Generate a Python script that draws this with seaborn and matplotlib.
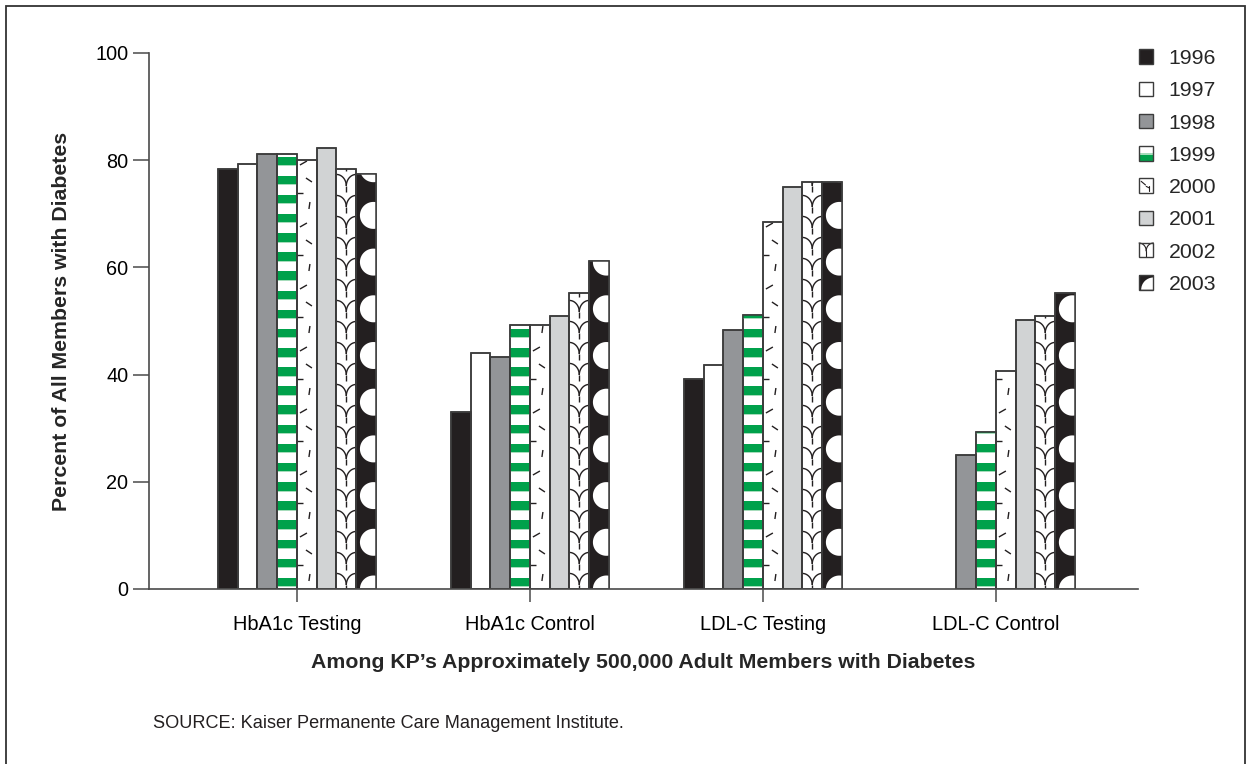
import numpy as np
import pandas as pd
import matplotlib
matplotlib.use("Agg")
import matplotlib.pyplot as plt
import seaborn as sns
from matplotlib.patches import Rectangle, Polygon, Wedge, Patch
from matplotlib.lines import Line2D
from matplotlib.collections import LineCollection
from matplotlib.legend_handler import HandlerBase

# ---- data -------------------------------------------------------------
measures = ["HbA1c Testing", "HbA1c Control", "LDL-C Testing", "LDL-C Control"]
years = ["1996", "1997", "1998", "1999", "2000", "2001", "2002", "2003"]

hba1c_testing = [78.3, 79.3, 81.1, 81.1, 80.1, 82.3, 78.4, 77.5]
hba1c_control = [33.0, 44.0, 43.3, 49.2, 49.2, 51.0, 55.2, 61.2]
ldlc_testing = [39.2, 41.7, 48.4, 51.2, 68.5, 75.0, 76.0, 76.0]
ldlc_control = [np.nan, np.nan, 25.0, 29.2, 40.6, 50.1, 50.9, 55.2]

y_ticks = [0, 20, 40, 60, 80, 100]

fill_colors = ["#231f20", "#ffffff", "#939598", "#ffffff",
               "#ffffff", "#d1d3d4", "#ffffff", "#231f20"]
GREEN = "#00a14b"
EDGE = "#3c3c3c"

rows = []
for m, vals in zip(measures, [hba1c_testing, hba1c_control, ldlc_testing, ldlc_control]):
    for yr, v in zip(years, vals):
        if not np.isnan(v):
            rows.append({"measure": m, "year": yr, "pct": v})
df = pd.DataFrame(rows)

# ---- figure ------------------------------------------------------------
sns.set_theme(style="ticks")
plt.rcParams["font.family"] = ["Liberation Sans", "DejaVu Sans"]

W, H = 1251, 764
fig = plt.figure(figsize=(W / 100, H / 100), dpi=100)
ax = fig.add_axes([149 / W, 1 - 589 / H, (1138 - 149) / W, (589 - 53) / H])

GROUP_W = 0.678
sns.barplot(data=df, x="measure", y="pct", hue="year", order=measures,
            hue_order=years, palette=dict(zip(years, fill_colors)),
            width=GROUP_W, gap=0, saturation=1, errorbar=None,
            edgecolor=EDGE, linewidth=1.1, legend=False, ax=ax)

ax.set_xlim(-0.635, 3.61)
ax.set_ylim(0, 100)
ax.set_yticks(y_ticks)
ax.set_xlabel("")
ax.set_ylabel("")
sns.despine(ax=ax)
for side in ("left", "bottom"):
    ax.spines[side].set_color("#4a4a4a")
    ax.spines[side].set_linewidth(1.2)
ax.tick_params(axis="y", length=11.5, width=1.1, color="#4a4a4a", pad=3.5,
               labelsize=14.3, labelcolor="black", left=True)
ax.tick_params(axis="x", length=9, width=1.1, color="#4a4a4a", pad=10,
               labelsize=14.4, labelcolor="black", bottom=True)

# pixel scale of the data axes, used to size the fill patterns
p0 = ax.transData.transform((0, 0))
p1 = ax.transData.transform((1, 1))
sx, sy = p1[0] - p0[0], p1[1] - p0[1]
bar_w = GROUP_W / len(years)


def year_of(bar):
    cx = bar.get_x() + bar.get_width() / 2
    cat = round(cx)
    idx = int(round((bar.get_x() - (cat - GROUP_W / 2)) / bar_w))
    return years[idx]


def clip_add(artist, bar, z):
    artist.set_zorder(z)
    if isinstance(artist, LineCollection):
        ax.add_collection(artist)
    else:
        ax.add_artist(artist)
    artist.set_clip_path(bar)


def decorate(bar):
    yr = year_of(bar)
    x0, y0 = bar.get_x(), bar.get_y()
    w, h = bar.get_width(), bar.get_height()
    x1 = x0 + w
    wpx, hpx = w * sx, h * sy
    z = bar.get_zorder() + 0.2

    if yr == "1999":
        # green horizontal bands
        period, thick, start = 19.15, 8.5, 2.7
        k = 0
        while start + k * period < hpx + period:
            yb = (start + k * period) / sy
            clip_add(Rectangle((x0, yb), w, thick / sy, facecolor=GREEN,
                               edgecolor="none"), bar, z)
            clip_add(Rectangle((x0, yb - 1.0 / sy), w, 1.0 / sy,
                               facecolor="#a6dcbb", edgecolor="none"), bar, z)
            k += 1
    elif yr == "2000":
        # scattered short strokes
        tile = 62.0
        strokes = [((3, 52), (10, 56)), ((9, 39), (15, 35)),
                   ((0, 24), (6, 24)), ((12, 8), (13, 15))]
        segs = []
        k = 0
        while k * tile < hpx + tile:
            for (a, b) in strokes:
                segs.append([(x0 + a[0] / sx, (k * tile + a[1]) / sy),
                             (x0 + b[0] / sx, (k * tile + b[1]) / sy)])
            k += 1
        clip_add(LineCollection(segs, colors="#231f20", linewidths=1.0), bar, z)
    elif yr == "2002":
        # scale-like arcs joining in the middle of the bar
        period = 21.0
        r = wpx / 2
        rv = 0.55 * period
        t = np.linspace(0, np.pi / 2, 30)
        segs = []
        k = 0
        while k * period < hpx + period:
            yj = 4 + k * period
            left = np.column_stack([x0 + r * np.cos(t) / sx, (yj + rv * np.sin(t)) / sy])
            right = np.column_stack([x1 - r * np.cos(t) / sx, (yj + rv * np.sin(t)) / sy])
            segs.append(left)
            segs.append(right)
            segs.append(np.array([[x0 + w / 2, yj / sy],
                                  [x0 + w / 2, (yj - 0.3 * period) / sy]]))
            k += 1
        clip_add(LineCollection(segs, colors="#231f20", linewidths=1.0), bar, z)
    elif yr == "2003":
        # white discs along the right edge
        period, rad, inset = 46.7, 13.5, 2.5
        t = np.linspace(0, 2 * np.pi, 60)
        k = 0
        while k * period < hpx + period:
            cxp = x1 - inset / sx
            cyp = k * period
            pts = np.column_stack([cxp + rad * np.cos(t) / sx, (cyp + rad * np.sin(t)) / sy])
            clip_add(Polygon(pts, closed=True, facecolor="white", edgecolor="none"), bar, z)
            k += 1

    outline = Rectangle((x0, y0), w, h, fill=False, edgecolor=EDGE,
                        linewidth=1.1, zorder=z + 0.1)
    ax.add_patch(outline)


for bar in list(ax.patches):
    if bar.get_height() > 0:
        decorate(bar)


# ---- legend with small swatches ----------------------------------------
class SwatchHandler(HandlerBase):
    def __init__(self, year, fill):
        super().__init__()
        self.year, self.fill = year, fill

    def create_artists(self, legend, orig_handle, xdescent, ydescent,
                       width, height, fontsize, trans):
        s = min(width, height)
        x0 = -xdescent
        y0 = -ydescent + (height - s) / 2
        arts = [Rectangle((x0, y0), s, s, facecolor=self.fill, edgecolor="none")]
        kw = dict(color="#231f20", linewidth=0.8)
        if self.year == "1999":
            arts.append(Rectangle((x0, y0), s, 0.42 * s, facecolor=GREEN, edgecolor="none"))
            arts.append(Rectangle((x0, y0 + 0.42 * s), s, 0.1 * s, facecolor="#a6dcbb", edgecolor="none"))
        elif self.year == "2000":
            arts.append(Line2D([x0 + 0.15 * s, x0 + 0.45 * s], [y0 + 0.8 * s, y0 + 0.55 * s], **kw))
            arts.append(Line2D([x0 + 0.72 * s, x0 + 0.72 * s], [y0 + 0.1 * s, y0 + 0.5 * s], **kw))
            arts.append(Line2D([x0 + 0.5 * s, x0 + 0.7 * s], [y0 + 0.45 * s, y0 + 0.35 * s], **kw))
        elif self.year == "2002":
            t = np.linspace(0, np.pi / 2, 20)
            yj = y0 + 0.45 * s
            arts.append(Line2D(x0 + 0.5 * s * np.cos(t), yj + 0.55 * s * np.sin(t), **kw))
            arts.append(Line2D(x0 + s - 0.5 * s * np.cos(t), yj + 0.55 * s * np.sin(t), **kw))
            arts.append(Line2D([x0 + 0.5 * s, x0 + 0.5 * s], [y0, yj], **kw))
        elif self.year == "2003":
            arts.append(Wedge((x0 + s, y0), 0.85 * s, 90, 180, facecolor="white", edgecolor="none"))
        arts.append(Rectangle((x0, y0), s, s, fill=False, edgecolor=EDGE, linewidth=1.0))
        for a in arts:
            a.set_transform(trans)
        return arts


handles = [Patch(facecolor=c) for c in fill_colors]
hmap = {h: SwatchHandler(y, c) for h, y, c in zip(handles, years, fill_colors)}
fig.legend(handles, years, handler_map=hmap, loc="upper left",
           bbox_to_anchor=(1139 / W, 1 - 49 / H), frameon=False,
           fontsize=15.3, borderpad=0, borderaxespad=0,
           handlelength=0.68, handleheight=0.68, handletextpad=0.72,
           labelspacing=0.625)

# ---- texts -------------------------------------------------------------
fig.text(62 / W, 1 - 321 / H, "Percent of All Members with Diabetes",
         rotation=90, ha="center", va="center", fontsize=15.3, fontweight="bold")
fig.text(643.5 / W, 1 - 663 / H,
         "Among KP\u2019s Approximately 500,000 Adult Members with Diabetes",
         ha="center", va="center", fontsize=15.3, fontweight="bold")
fig.text(153 / W, 1 - 724 / H, "SOURCE: Kaiser Permanente Care Management Institute.",
         ha="left", va="center", fontsize=13.1, color="#231f20")

# outer frame
fig.add_artist(Rectangle((6 / W, -0.05), (1245 - 6) / W, 1.05 - 6 / H,
                         transform=fig.transFigure, fill=False,
                         edgecolor="#333333", linewidth=1.3))

fig.savefig("out.png", dpi=100, facecolor="white")
